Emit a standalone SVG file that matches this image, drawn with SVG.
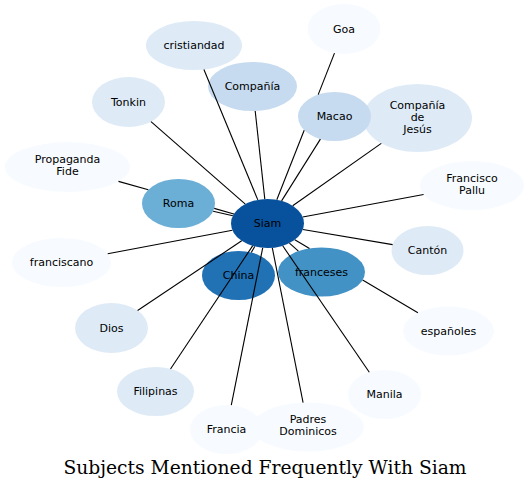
<svg xmlns="http://www.w3.org/2000/svg" width="530" height="490" viewBox="0 0 530 490">
<style>
.n text{font-family:"DejaVu Sans",Verdana,sans-serif;font-size:11px;fill:#000;text-anchor:middle}
.c0{fill:#f7fbff}.c1{fill:#deebf7}.c2{fill:#c6dbef}.c3{fill:#6baed6}.c4{fill:#4292c6}.c5{fill:#2171b5}.c6{fill:#08519c}
#edges line{stroke:#000;stroke-width:1.1}
.title{font-family:"DejaVu Serif",serif;font-size:18.7px;fill:#000;text-anchor:middle}
</style>
<rect width="530" height="490" fill="#fff"/>
<g class="n">
<g id="cristiandad"><ellipse class="c1" cx="194" cy="45.5" rx="48" ry="24.5"/><text x="194" y="49">cristiandad</text></g>
<g id="compania"><ellipse class="c2" cx="252.5" cy="86.5" rx="44.5" ry="24.5"/><text x="252.5" y="90">Compañía</text></g>
<g id="goa"><ellipse class="c0" cx="344" cy="29" rx="36.5" ry="25"/><text x="344" y="32.5">Goa</text></g>
<g id="tonkin"><ellipse class="c1" cx="128.5" cy="102" rx="36.5" ry="25"/><text x="128.5" y="105.5">Tonkin</text></g>
<g id="companiadejesus"><ellipse class="c1" cx="417.5" cy="118" rx="54.5" ry="34"/><text x="417.5" y="109">Compañía</text><text x="417.5" y="121">de</text><text x="417.5" y="133">Jesús</text></g>
<g id="macao"><ellipse class="c2" cx="334.5" cy="116.5" rx="36.5" ry="24.5"/><text x="334.5" y="120">Macao</text></g>
<g id="propagandafide"><ellipse class="c0" cx="67.5" cy="167" rx="62.5" ry="25"/><text x="67.5" y="163">Propaganda</text><text x="67.5" y="175">Fide</text></g>
<g id="franciscopallu"><ellipse class="c0" cx="472" cy="185.5" rx="52" ry="24.5"/><text x="472" y="182">Francisco</text><text x="472" y="194">Pallu</text></g>
<g id="roma"><ellipse class="c3" cx="178.5" cy="203.5" rx="36.5" ry="24.5"/><text x="178.5" y="207">Roma</text></g>
<g id="siam"><ellipse class="c6" cx="267.5" cy="223.5" rx="36.5" ry="24.5"/><text x="267.5" y="227">Siam</text></g>
<g id="canton"><ellipse class="c1" cx="427.5" cy="250.5" rx="36" ry="24.5"/><text x="427.5" y="254">Cantón</text></g>
<g id="franciscano"><ellipse class="c0" cx="61.5" cy="262.5" rx="49.5" ry="24.5"/><text x="61.5" y="266">franciscano</text></g>
<g id="china"><ellipse class="c5" cx="238.5" cy="275.5" rx="36.5" ry="24.5"/><text x="238.5" y="279">China</text></g>
<g id="franceses"><ellipse class="c4" cx="321.5" cy="272" rx="43.5" ry="24.5"/><text x="321.5" y="275.5">franceses</text></g>
<g id="dios"><ellipse class="c1" cx="111.5" cy="328" rx="36.5" ry="25"/><text x="111.5" y="331.5">Dios</text></g>
<g id="espanoles"><ellipse class="c0" cx="448.5" cy="331" rx="45.5" ry="24.5"/><text x="448.5" y="334.5">españoles</text></g>
<g id="filipinas"><ellipse class="c1" cx="155.5" cy="391.5" rx="38.5" ry="24.5"/><text x="155.5" y="395">Filipinas</text></g>
<g id="manila"><ellipse class="c0" cx="384.5" cy="394.5" rx="36.5" ry="24.5"/><text x="384.5" y="398">Manila</text></g>
<g id="francia"><ellipse class="c0" cx="226.5" cy="429.5" rx="36.5" ry="24.5"/><text x="226.5" y="433">Francia</text></g>
<g id="padresdominicos"><ellipse class="c0" cx="308" cy="427" rx="56" ry="24.5"/><text x="308" y="423">Padres</text><text x="308" y="435">Dominicos</text></g>
</g>
<g id="edges">
<line x1="203.9" y1="69.5" x2="257.8" y2="199.9"/>
<line x1="255.2" y1="111" x2="264.8" y2="199.1"/>
<line x1="151" y1="121.7" x2="245.3" y2="204.1"/>
<line x1="334.5" y1="53.1" x2="318.2" y2="94.6"/>
<line x1="304.2" y1="130.2" x2="276.8" y2="199.8"/>
<line x1="320.4" y1="139.1" x2="281.6" y2="200.9"/>
<line x1="381.3" y1="143.4" x2="292.7" y2="205.8"/>
<line x1="423.6" y1="194.5" x2="302.7" y2="217"/>
<line x1="392.6" y1="244.6" x2="302.9" y2="229.5"/>
<line x1="118.5" y1="181.4" x2="148.3" y2="189.8"/>
<line x1="214.2" y1="208.4" x2="233.9" y2="214"/>
<line x1="213.1" y1="211.3" x2="232.9" y2="215.7"/>
<line x1="107.7" y1="253.7" x2="232.4" y2="230.2"/>
<line x1="254.7" y1="246.5" x2="251.3" y2="252.6"/>
<line x1="137.6" y1="310.5" x2="241.7" y2="240.8"/>
<line x1="170.5" y1="369" x2="252.6" y2="245.9"/>
<line x1="231.3" y1="405.2" x2="262.7" y2="247.8"/>
<line x1="303.1" y1="402.6" x2="272.3" y2="247.8"/>
<line x1="369.3" y1="372.2" x2="282.7" y2="245.8"/>
<line x1="417.9" y1="312.8" x2="362.6" y2="280"/>
<line x1="309.5" y1="248.5" x2="294.8" y2="239.7"/>
<line x1="298.4" y1="251.2" x2="289.4" y2="243.1"/>
</g>
<text class="title" x="265" y="474">Subjects Mentioned Frequently With Siam</text>
</svg>
